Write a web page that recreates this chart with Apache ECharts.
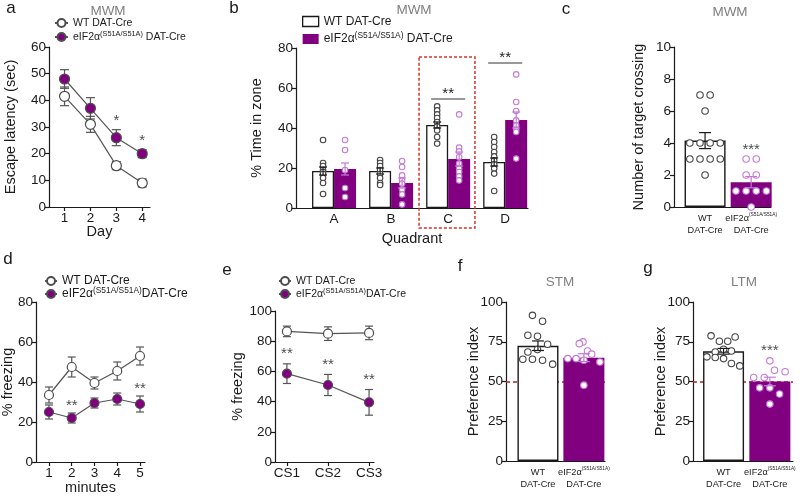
<!DOCTYPE html>
<html><head><meta charset="utf-8">
<script src="https://cdn.jsdelivr.net/npm/echarts@6.0.0/dist/echarts.min.js"></script>
<style>html,body{margin:0;padding:0;background:#fff;}#chart{width:800px;height:497px;}</style>
</head><body><div id="chart"></div>
<script>
// ---------------- data ----------------
const WT = 'WT DAT-Cre';
const MUT = 'eIF2α(S51A/S51A) DAT-Cre';

// a: MWM escape latency
const days = [1, 2, 3, 4];
const aWT = [41.5, 31, 15.5, 9];
const aWTsem = [3.5, 3, 1.5, 1.5];
const aMut = [48, 37, 26, 20];
const aMutSem = [3.5, 4, 3, 1.5];
const aSig = ['', '', '*', '*'];

// b: MWM % time in zone
const quadrants = ['A', 'B', 'C', 'D'];
const bWT = [18.5, 18.5, 41.5, 23];
const bWTsem = [2, 1.5, 1.5, 2];
const bMut = [19.5, 12.5, 24.5, 44];
const bMutSem = [3, 2.5, 3.5, 4];
const bWTpts = [
  [34, 22.5, 21, 19, 18, 17, 15, 12.5, 7],
  [24, 22.5, 21, 19, 17, 15, 12.5, 11.5],
  [50.8, 48.8, 46.8, 45, 43, 40.8, 38.8, 35.5, 32.2],
  [35.5, 33, 30.5, 28, 25.8, 23.8, 21.8, 19.7, 17.2, 8.5]
];
const bMutPts = [
  [34, 29, 19, 10, 5.5],
  [23.5, 20.5, 16.3, 13.8, 12.2, 9.3, 6.8, 1.8],
  [46.8, 30.2, 28.3, 25.5, 22.2, 19.7, 18, 15.8, 13.8],
  [66.8, 53, 48.5, 43.8, 41.3, 39.2, 38, 24.7]
];
const bSig = ['', '', '**', '**'];
const bSigLevel = [0, 0, 54.5, 72.5];

// c: number of target crossings
const genotypes = ['WT', 'eIF2α'];
const cMean = [4.15, 1.55];
const cSem = [0.5, 0.35];
const cWTpts = [7, 7, 6, 4, 4, 4, 4, 3, 3, 3, 3, 2];
const cWTjit = [-0.11, 0.11, 0, -0.33, -0.11, 0.11, 0.33, -0.33, -0.11, 0.11, 0.33, 0];
const cMutPts = [3, 3, 2, 2, 1, 1, 1, 1, 0];
const cMutJit = [-0.11, 0.11, -0.11, 0.11, -0.33, -0.11, 0.11, 0.33, 0];
const cSig = ['', '***'];

// d: % freezing per minute
const minutes = [1, 2, 3, 4, 5];
const dWT = [33.5, 47.5, 39.5, 45.5, 53];
const dWTsem = [4, 5, 3, 4.5, 4.5];
const dMut = [25, 22, 29.5, 31.5, 29];
const dMutSem = [3.5, 2.5, 2.5, 3, 4];
const dSig = ['', '**', '', '', '**'];

// e: % freezing per CS
const csLabels = ['CS1', 'CS2', 'CS3'];
const eWT = [86.5, 85, 85.5];
const eWTsem = [3.5, 4.5, 4.5];
const eMut = [58.5, 51, 39.5];
const eMutSem = [6.5, 7, 8.5];
const eSig = ['**', '**', '**'];

// f: STM preference index
const fMean = [72.5, 65];
const fSem = [3, 2.5];
const fWTpts = [91.6, 87.9, 79.1, 78.5, 73.4, 70.1, 68.6, 64, 64, 63.4, 60.9];
const fWTjit = [-0.12, 0.10, -0.22, -0.01, 0.21, -0.01, -0.22, -0.33, -0.12, 0.10, 0.32];
const fMutPts = [74.9, 73.8, 69.2, 67.2, 64.4, 64.4, 63.4, 62.3, 47.7];
const fMutJit = [-0.02, -0.10, 0.08, 0.17, -0.35, -0.17, 0, 0.35, 0];

// g: LTM preference index
const gMean = [69, 50];
const gSem = [1.8, 2.7];
const gWTpts = [78.7, 75.3, 75.3, 78, 68.6, 70.3, 69.2, 65.5, 65.1, 64.4, 61.3, 59.8];
const gWTjit = [-0.27, -0.09, 0.09, 0.25, -0.18, 0, 0.17, -0.36, -0.18, 0, 0.17, 0.35];
const gMutPts = [63, 57.1, 56.1, 52.5, 52.5, 46, 46, 42.1, 35.8];
const gMutJit = [0, 0.10, 0.33, -0.35, -0.12, -0.22, 0, 0.21, 0];
const gSig = ['', '***'];
const chanceLevel = 50;

// ---------------- style ----------------
const FONT = '"Liberation Sans", Arial, Helvetica, sans-serif';
const PURPLE = '#800080';
const PINK = '#c57ad6';
const GRAY = '#555555';
const BLACK = '#1a1a1a';
const gx = [1, 2];
const qx = quadrants.map((q, i) => i + 1);
const csx = csLabels.map((q, i) => i + 1);

const grids = [
  {left: 49, top: 47, width: 101, height: 160},   // a
  {left: 296, top: 48, width: 232, height: 160},  // b
  {left: 674, top: 47, width: 97, height: 160},   // c
  {left: 36, top: 302, width: 109, height: 160},  // d
  {left: 275, top: 311, width: 99, height: 151},  // e
  {left: 506, top: 302, width: 99, height: 159},  // f
  {left: 693, top: 302, width: 100, height: 159}  // g
].map(g => Object.assign({outerBoundsMode: 'none', containLabel: false}, g));

function yAx(gi, max, interval, name, gap) {
  return {type: 'value', gridIndex: gi, min: 0, max, interval, name,
    nameLocation: 'middle', nameGap: gap, nameMoveOverlap: false,
    nameTextStyle: {fontFamily: FONT, fontSize: 14.5, color: BLACK},
    axisLine: {show: true, onZero: false, lineStyle: {color: BLACK, width: 1.2}},
    axisTick: {show: true, length: 4, lineStyle: {color: BLACK, width: 1.2}},
    axisLabel: {fontFamily: FONT, fontSize: 13.5, color: BLACK, margin: 3},
    splitLine: {show: false}};
}
const genoRich = {
  n: {fontFamily: FONT, fontSize: 9.2, lineHeight: 12, color: BLACK},
  s: {fontFamily: FONT, fontSize: 4.8, lineHeight: 5.5, verticalAlign: 'top', color: BLACK}
};
function genoFmt(v) {
  return v === 1 ? '{n|WT}\n{n|DAT-Cre}' : '{n|eIF2α}{s|(S51A/S51A)}\n{n|DAT-Cre}';
}
function xAx(gi, min, max, vals, fmt, ticks, opts) {
  return Object.assign({type: 'value', gridIndex: gi, min, max,
    nameLocation: 'middle', nameMoveOverlap: false,
    nameTextStyle: {fontFamily: FONT, fontSize: 14.5, color: BLACK},
    axisLine: {show: true, onZero: false, lineStyle: {color: BLACK, width: 1.2}},
    axisTick: ticks ? {show: true, length: 4, customValues: vals, lineStyle: {color: BLACK, width: 1.2}} : {show: false},
    axisLabel: {customValues: vals, formatter: fmt, fontFamily: FONT, fontSize: 13.5, color: BLACK, margin: 4,
      hideOverlap: false, showMinLabel: true, showMaxLabel: true},
    splitLine: {show: false}}, opts || {});
}

const xAxes = [
  xAx(0, 0.4, 4.3, days, v => String(v), true, {name: 'Day', nameGap: 17}),
  xAx(1, 0.333, 4.4, qx, v => quadrants[v - 1], false, {name: 'Quadrant', nameGap: 23}),
  xAx(2, 0.326, 2.43, gx, genoFmt, false, {}),
  xAx(3, 0.43, 5.22, minutes, v => String(v), true, {name: 'minutes', nameGap: 18}),
  xAx(4, 0.71, 3.12, csx, v => csLabels[v - 1], true, {}),
  xAx(5, 0.304, 2.46, gx, genoFmt, false, {}),
  xAx(6, 0.34, 2.5, gx, genoFmt, false, {})
];
[2, 5, 6].forEach(i => {
  xAxes[i].axisLabel.rich = genoRich;
  xAxes[i].axisLabel.margin = 5;
});

const yAxes = [
  yAx(0, 60, 10, 'Escape latency (sec)', 31),
  yAx(1, 80, 20, '% Time in zone', 32),
  yAx(2, 10, 2, 'Number of target crossing', 28),
  yAx(3, 80, 20, '% freezing', 21),
  yAx(4, 100, 20, '% freezing', 30),
  yAx(5, 100, 25, 'Preference index', 25),
  yAx(6, 100, 25, 'Preference index', 25)
];

// ---------------- series builders ----------------
function errSeries(gi, xs, means, sems, color, cap, offPx, z) {
  return {type: 'custom', xAxisIndex: gi, yAxisIndex: gi, silent: true, z: z || 3,
    data: xs.map((x, i) => [x, means[i] - sems[i], means[i] + sems[i]]),
    encode: {x: 0, y: [1, 2]},
    renderItem: (p, api) => {
      const lo = api.coord([api.value(0), api.value(1)]);
      const hi = api.coord([api.value(0), api.value(2)]);
      const x = lo[0] + offPx;
      const st = {stroke: color, lineWidth: 1.2};
      return {type: 'group', children: [
        {type: 'line', shape: {x1: x, y1: lo[1], x2: x, y2: hi[1]}, style: st},
        {type: 'line', shape: {x1: x - cap / 2, y1: hi[1], x2: x + cap / 2, y2: hi[1]}, style: st},
        {type: 'line', shape: {x1: x - cap / 2, y1: lo[1], x2: x + cap / 2, y2: lo[1]}, style: st}
      ]};
    }};
}
function lineSeries(gi, name, xs, ys, fill, size) {
  return {type: 'line', name, xAxisIndex: gi, yAxisIndex: gi, z: 4, symbol: 'circle', symbolSize: size,
    data: xs.map((x, i) => [x, ys[i]]),
    lineStyle: {color: GRAY, width: 1.2},
    itemStyle: {color: fill, borderColor: '#4d4d4d', borderWidth: 1.2},
    emphasis: {disabled: true}};
}
function starSeries(gi, xs, anchors, marks, fs, dist) {
  const data = [];
  xs.forEach((x, i) => { if (marks[i]) data.push({value: [x, anchors[i]], label: {formatter: marks[i]}}); });
  return {type: 'scatter', xAxisIndex: gi, yAxisIndex: gi, symbolSize: 0, z: 6, silent: true, data,
    label: {show: true, position: 'top', distance: dist, fontFamily: FONT, fontSize: fs, color: '#222'}};
}
function pointSeries(gi, xs, groups, jits, stroke, size, offPx) {
  const data = [];
  groups.forEach((arr, i) => arr.forEach((v, j) => data.push([xs[i] + (jits ? jits[i][j] : 0), v])));
  return {type: 'scatter', xAxisIndex: gi, yAxisIndex: gi, z: 4, silent: true, symbol: 'circle',
    symbolSize: size, symbolOffset: [offPx || 0, 0], data,
    itemStyle: {color: '#ffffff', borderColor: stroke, borderWidth: 1.1, opacity: 1}};
}
function genoBars(gi, means, name, withLine) {
  const s = {type: 'bar', name, xAxisIndex: gi, yAxisIndex: gi, z: 2, barWidth: 41, silent: true,
    data: [
      {value: [1, means[0]], itemStyle: {color: '#ffffff', borderColor: BLACK, borderWidth: 1.4}},
      {value: [2, means[1]], itemStyle: {color: PURPLE}}
    ]};
  if (withLine) {
    s.markLine = {silent: true, symbol: 'none', z: 1, label: {show: false},
      lineStyle: {color: '#b22222', type: [4, 3], width: 1.5},
      data: [{yAxis: chanceLevel}]};
  }
  return s;
}

const aMutTop = aMut.map((m, i) => m + aMutSem[i]);
const dMutTop = dMut.map((m, i) => m + dMutSem[i]);
const eMutTop = eMut.map((m, i) => m + eMutSem[i]);

const series = [
  // a
  errSeries(0, days, aWT, aWTsem, GRAY, 9, 0, 3),
  errSeries(0, days, aMut, aMutSem, GRAY, 9, 0, 3),
  lineSeries(0, WT, days, aWT, '#ffffff', 10),
  lineSeries(0, MUT, days, aMut, PURPLE, 10),
  starSeries(0, days, aMutTop, aSig, 15, 1),
  // b
  {type: 'bar', name: WT, xAxisIndex: 1, yAxisIndex: 1, z: 2, barWidth: 22, barGap: '0%', silent: true,
    data: qx.map((x, i) => [x, bWT[i]]),
    itemStyle: {color: '#ffffff', borderColor: BLACK, borderWidth: 1.3}},
  {type: 'bar', name: MUT, xAxisIndex: 1, yAxisIndex: 1, z: 2, barWidth: 22, barGap: '0%', silent: true,
    data: qx.map((x, i) => [x, bMut[i]]),
    itemStyle: {color: PURPLE}},
  pointSeries(1, qx, bWTpts, null, '#444', 5.5, -11),
  pointSeries(1, qx, bMutPts, null, PINK, 5.5, 11),
  errSeries(1, qx, bWT, bWTsem, BLACK, 8, -11, 5),
  errSeries(1, qx, bMut, bMutSem, PINK, 8, 11, 5),
  {type: 'custom', xAxisIndex: 1, yAxisIndex: 1, z: 6, silent: true,
    data: qx.map((x, i) => [x, bSigLevel[i]]).filter((d, i) => bSig[i]),
    encode: {x: 0, y: 1},
    renderItem: (p, api) => {
      const c = api.coord([api.value(0), api.value(1)]);
      const txt = bSig.filter(s => s)[p.dataIndex];
      return {type: 'group', children: [
        {type: 'line', shape: {x1: c[0] - 17, y1: c[1], x2: c[0] + 17, y2: c[1]}, style: {stroke: '#333', lineWidth: 1}},
        {type: 'text', x: c[0], y: c[1] + 2, style: {text: txt, align: 'center', verticalAlign: 'bottom',
          font: '15px ' + FONT, fill: '#222'}}
      ]};
    }},
  // c
  genoBars(2, cMean, 'Target crossings', false),
  pointSeries(2, [1], [cWTpts], [cWTjit], '#444', 6.5, 0),
  pointSeries(2, [2], [cMutPts], [cMutJit], PINK, 6.5, 0),
  errSeries(2, [1], [cMean[0]], [cSem[0]], BLACK, 12, 0, 5),
  errSeries(2, [2], [cMean[1]], [cSem[1]], PINK, 12, 0, 5),
  starSeries(2, gx, [0, Math.max(...cMutPts)], cSig, 15, 2),
  // d
  errSeries(3, minutes, dWT, dWTsem, GRAY, 8, 0, 3),
  errSeries(3, minutes, dMut, dMutSem, GRAY, 8, 0, 3),
  lineSeries(3, WT, minutes, dWT, '#ffffff', 9),
  lineSeries(3, MUT, minutes, dMut, PURPLE, 9),
  starSeries(3, minutes, dMutTop, dSig, 15, 0),
  // e
  errSeries(4, csx, eWT, eWTsem, GRAY, 8, 0, 3),
  errSeries(4, csx, eMut, eMutSem, GRAY, 8, 0, 3),
  lineSeries(4, WT, csx, eWT, '#ffffff', 9),
  lineSeries(4, MUT, csx, eMut, PURPLE, 9),
  starSeries(4, csx, eMutTop, eSig, 15, 2),
  // f
  genoBars(5, fMean, 'STM', true),
  pointSeries(5, [1], [fWTpts], [fWTjit], '#444', 6.5, 0),
  pointSeries(5, [2], [fMutPts], [fMutJit], PINK, 6.5, 0),
  errSeries(5, [1], [fMean[0]], [fSem[0]], BLACK, 12, 0, 5),
  errSeries(5, [2], [fMean[1]], [fSem[1]], PINK, 12, 0, 5),
  // g
  genoBars(6, gMean, 'LTM', true),
  pointSeries(6, [1], [gWTpts], [gWTjit], '#444', 6.5, 0),
  pointSeries(6, [2], [gMutPts], [gMutJit], PINK, 6.5, 0),
  errSeries(6, [1], [gMean[0]], [gSem[0]], BLACK, 12, 0, 5),
  errSeries(6, [2], [gMean[1]], [gSem[1]], PINK, 12, 0, 5),
  starSeries(6, gx, [0, Math.max(...gMutPts)], gSig, 15, 2)
];

// ---------------- legends ----------------
function legend(left, top, fs, lh, itemW, itemH, gap, space, icons) {
  return {show: true, orient: 'vertical', left, top, padding: 0, itemGap: gap,
    itemWidth: itemW, itemHeight: itemH, selectedMode: false,
    data: [WT, MUT].map((n, i) => icons ? Object.assign({name: n}, icons[i]) : n),
    formatter: n => n === WT ? '{n|' + n + '}' : '{n|eIF2α}{s|(S51A/S51A)}{n|' + (space ? ' ' : '') + 'DAT-Cre}',
    textStyle: {fontFamily: FONT, fontSize: fs, color: BLACK, padding: [0, 0, 0, 0],
      rich: {n: {fontFamily: FONT, fontSize: fs, lineHeight: lh, color: BLACK},
             s: {fontFamily: FONT, fontSize: fs * 0.7, lineHeight: fs * 0.75, verticalAlign: 'top', color: BLACK}}}};
}
const legends = [
  legend(54, 17.5, 10.5, 13, 13, 10, 2, true),
  legend(302, 15.5, 12, 15, 16, 10, 4, true, [
    {icon: 'rect', itemStyle: {color: '#ffffff', borderColor: BLACK, borderWidth: 1.3}},
    {icon: 'rect', itemStyle: {color: PURPLE, borderWidth: 0}}]),
  legend(44, 275, 12, 14, 12, 10, 0, false),
  legend(278, 275.5, 10.5, 13, 12, 10, 1, false)
];

// ---------------- titles / panel letters ----------------
const labels = [
  ['a', 11, 8, 17, BLACK], ['b', 234, 8, 17, BLACK], ['c', 566, 9, 17, BLACK],
  ['d', 8, 259, 17, BLACK], ['e', 227, 270, 17, BLACK], ['f', 460, 266, 17, BLACK], ['g', 648, 268, 17, BLACK],
  ['MWM', 108, 11.5, 13.5, '#808080'], ['MWM', 414, 10, 13.5, '#808080'], ['MWM', 730, 12, 13.5, '#808080'],
  ['STM', 560, 282, 13.5, '#808080'], ['LTM', 744, 282, 13.5, '#808080']
];
const graphics = labels.map(l => ({type: 'text', x: l[1], y: l[2], silent: true,
  style: {text: l[0], font: l[3] + 'px ' + FONT, fill: l[4], align: 'center', verticalAlign: 'middle'}}));

const chart = echarts.init(document.getElementById('chart'), null, {renderer: 'canvas'});
chart.setOption({
  animation: false,
  backgroundColor: '#ffffff',
  textStyle: {fontFamily: FONT},
  grid: grids, xAxis: xAxes, yAxis: yAxes, legend: legends, series,
  graphic: graphics
});

// dashed box around quadrant C (panel b)
const p1 = chart.convertToPixel({xAxisIndex: 1, yAxisIndex: 1}, [2.49, 75.5]);
const p2 = chart.convertToPixel({xAxisIndex: 1, yAxisIndex: 1}, [3.47, 0]);
graphics.push({type: 'rect', silent: true, z: 10,
  shape: {x: p1[0], y: p1[1], width: p2[0] - p1[0], height: p2[1] - p1[1] + 20},
  style: {fill: 'none', stroke: '#d9302a', lineWidth: 1.5, lineDash: [3, 2]}});
chart.setOption({graphic: graphics});
</script></body></html>
